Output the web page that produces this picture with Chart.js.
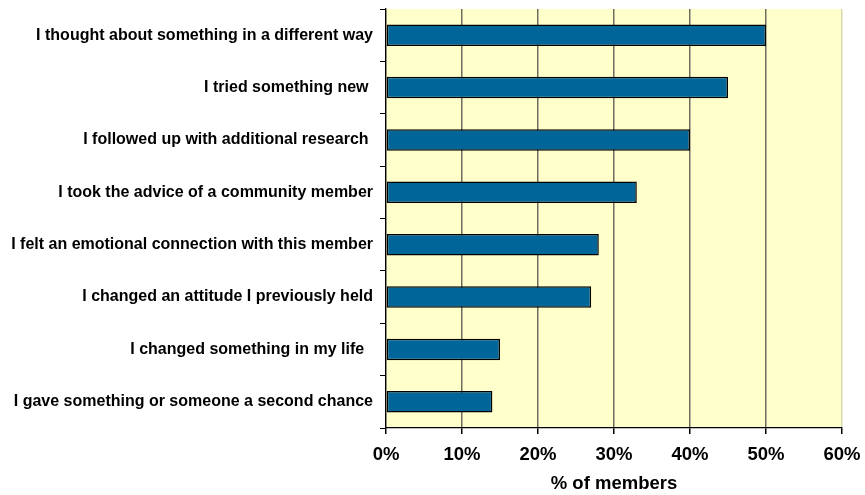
<!DOCTYPE html>
<html>
<head>
<meta charset="utf-8">
<script src="https://cdn.jsdelivr.net/npm/chart.js@4/dist/chart.umd.min.js"></script>
<style>
  html, body { margin: 0; padding: 0; background: #ffffff; }
  #wrap { width: 865px; height: 495px; position: relative; }
</style>
</head>
<body>
<div id="wrap"><canvas id="chart"></canvas></div>
<script>
// Survey outcomes, share of members reporting each (percent)
const categories = [
  "I thought about something in a different way",
  "I tried something new ",
  "I followed up with additional research ",
  "I took the advice of a community member",
  "I felt an emotional connection with this member",
  "I changed an attitude I previously held",
  "I changed something in my life  ",
  "I gave something or someone a second chance"
];
const memberShare = [50, 45, 40, 33, 28, 27, 15, 14];
const xTicks = [0, 10, 20, 30, 40, 50, 60];
const xTitle = "% of members";

const FONT = "'Liberation Sans', Arial, Helvetica, sans-serif";

// Pale yellow plot background
const plotBackground = {
  id: 'plotBackground',
  beforeDraw(chart) {
    const { ctx, chartArea: a } = chart;
    ctx.save();
    ctx.fillStyle = '#FFFFCC';
    ctx.fillRect(a.left, a.top, a.right - a.left, a.bottom - a.top);
    ctx.restore();
  }
};

new Chart(document.getElementById('chart'), {
  type: 'bar',
  data: {
    labels: categories,
    datasets: [{
      data: memberShare,
      backgroundColor: '#006699',
      borderColor: '#000000',
      borderWidth: 1.5,
      borderSkipped: false,
      barPercentage: 0.41,
      categoryPercentage: 1.0
    }]
  },
  options: {
    indexAxis: 'y',
    responsive: true,
    maintainAspectRatio: false,
    animation: false,
    devicePixelRatio: 1,
    layout: { padding: { left: 0, right: 23, top: 9, bottom: 0 } },
    plugins: {
      legend: { display: false },
      tooltip: { enabled: false }
    },
    scales: {
      x: {
        type: 'linear',
        min: 0,
        max: 60,
        afterBuildTicks(scale) {
          scale.ticks = xTicks.map(v => ({ value: v }));
        },
        afterFit(scale) {
          scale.height = 67;
          scale.paddingLeft = 0;
          scale.paddingRight = 0;
        },
        grid: {
          color: ctx => (ctx.tick && ctx.tick.value === 60) ? '#d8d8b0' : '#6e6e60',
          lineWidth: 1.5,
          tickLength: 6,
          tickColor: '#000000',
          drawOnChartArea: true
        },
        border: { display: true, color: '#000000', width: 1.2 },
        ticks: {
          color: '#000000',
          padding: 10,
          font: { family: FONT, size: 18.5, weight: 'bold' },
          callback: v => v + '%'
        },
        title: {
          display: true,
          text: xTitle,
          color: '#000000',
          padding: { top: 0, bottom: 0 },
          font: { family: FONT, size: 18.5, weight: 'bold' }
        }
      },
      y: {
        type: 'category',
        offset: true,
        afterFit(scale) {
          scale.width = 386;
          scale.paddingTop = 0;
          scale.paddingBottom = 0;
        },
        grid: {
          offset: true,
          drawOnChartArea: false,
          drawTicks: true,
          tickLength: 6,
          tickColor: '#000000',
          color: '#000000'
        },
        border: { display: true, color: '#000000', width: 1.2 },
        ticks: {
          color: '#000000',
          padding: 7,
          autoSkip: false,
          font: { family: FONT, size: 16, weight: 'bold' }
        }
      }
    }
  },
  plugins: [plotBackground]
});
</script>
</body>
</html>
